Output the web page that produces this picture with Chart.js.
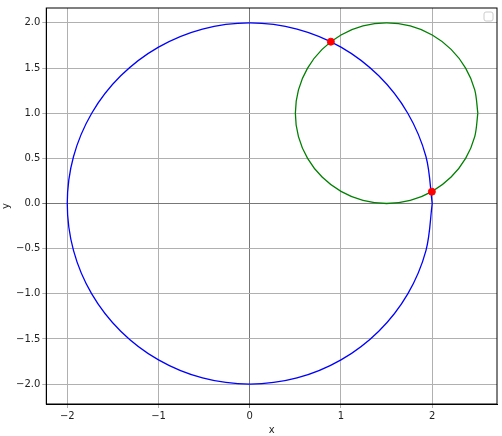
<!DOCTYPE html>
<html>
<head>
<script src="https://cdn.jsdelivr.net/npm/chart.js@4"></script>
<style>
html, body { margin: 0; padding: 0; background: #fff; }
#wrap { width: 502px; height: 436px; }
</style>
</head>
<body>
<div id="wrap"><canvas id="chart"></canvas></div>
<script>
// circle outlines, every 15 degrees
var bigX = [2, 1.932, 1.732, 1.414, 1, 0.518, 0, -0.518, -1, -1.414, -1.732, -1.932, -2,
    -1.932, -1.732, -1.414, -1, -0.518, 0, 0.518, 1, 1.414, 1.732, 1.932, 2]
var bigY = [0, 0.518, 1, 1.414, 1.732, 1.932, 2, 1.932, 1.732, 1.414, 1, 0.518, 0,
    -0.518, -1, -1.414, -1.732, -1.932, -2, -1.932, -1.732, -1.414, -1, -0.518, 0]
var smallX = [2.5, 2.466, 2.366, 2.207, 2, 1.759, 1.5, 1.241, 1, 0.793, 0.634, 0.534, 0.5,
    0.534, 0.634, 0.793, 1, 1.241, 1.5, 1.759, 2, 2.207, 2.366, 2.466, 2.5]
var smallY = [1, 1.259, 1.5, 1.707, 1.866, 1.966, 2, 1.966, 1.866, 1.707, 1.5, 1.259, 1,
    0.741, 0.5, 0.293, 0.134, 0.034, 0, 0.034, 0.134, 0.293, 0.5, 0.741, 1]
var crossX = [0.889, 1.996]
var crossY = [1.792, 0.131]
var xTicks = [-2, -1, 0, 1, 2]
var yTicks = [-2, -1.5, -1, -0.5, 0, 0.5, 1, 1.5, 2]

function pairs(xs, ys) {
    return xs.map(function (x, i) { return { x: x, y: ys[i] } })
}
function minus(s) { return s.replace('-', '\u2212') }

Chart.defaults.font.family = 'DejaVu Sans'
Chart.defaults.font.size = 10
Chart.defaults.color = '#222'

var ctx = document.getElementById('chart').getContext('2d')
var chart = new Chart(ctx, {
    type: 'scatter',
    data: {
        datasets: [
            { data: pairs(bigX, bigY), showLine: true, borderColor: '#0000ff', borderWidth: 1.3,
              pointRadius: 0, tension: 0.33, fill: false, order: 3 },
            { data: pairs(smallX, smallY), showLine: true, borderColor: '#008000', borderWidth: 1.3,
              pointRadius: 0, tension: 0.33, fill: false, order: 2 },
            { data: pairs(crossX, crossY), showLine: false, backgroundColor: '#ff0000',
              borderColor: '#ff0000', pointRadius: 3.5, order: 1 }
        ]
    },
    options: {
        responsive: true,
        maintainAspectRatio: false,
        animation: false,
        layout: { padding: { left: 0, right: 4, top: 7, bottom: 0 } },
        plugins: { legend: { display: false }, tooltip: { enabled: false } },
        scales: {
            x: {
                type: 'linear', min: -2.23, max: 2.71,
                afterBuildTicks: function (axis) { axis.ticks = xTicks.map(function (v) { return { value: v } }) },
                ticks: { callback: function (v) { return minus(String(v)) }, padding: 2 },
                grid: {
                    color: function (c) { return c.tick && c.tick.value === 0 ? '#777' : '#b0b0b0' },
                    tickLength: 4, drawTicks: true
                },
                border: { color: '#000' },
                title: { display: true, text: 'x', padding: { top: 0, bottom: 0 } }
            },
            y: {
                type: 'linear', min: -2.22, max: 2.165,
                afterBuildTicks: function (axis) { axis.ticks = yTicks.map(function (v) { return { value: v } }) },
                ticks: { callback: function (v) { return minus(v.toFixed(1)) }, padding: 2 },
                grid: {
                    color: function (c) { return c.tick && c.tick.value === 0 ? '#777' : '#b0b0b0' },
                    tickLength: 4
                },
                border: { color: '#000' },
                title: { display: true, text: 'y', padding: { top: 0, bottom: 2 } }
            }
        }
    },
    plugins: [{
        id: 'frameAndLegend',
        afterDraw: function (c) {
            var a = c.chartArea, g = c.ctx
            g.save()
            g.strokeStyle = '#000'
            g.lineWidth = 1
            g.strokeRect(a.left, a.top, a.right - a.left, a.bottom - a.top)
            g.strokeStyle = '#ccc'
            g.fillStyle = 'rgba(255,255,255,0.8)'
            g.beginPath()
            g.roundRect(a.right - 13, a.top + 4, 9, 9, 2)
            g.fill(); g.stroke()
            g.restore()
        }
    }]
})
</script>
</body>
</html>
